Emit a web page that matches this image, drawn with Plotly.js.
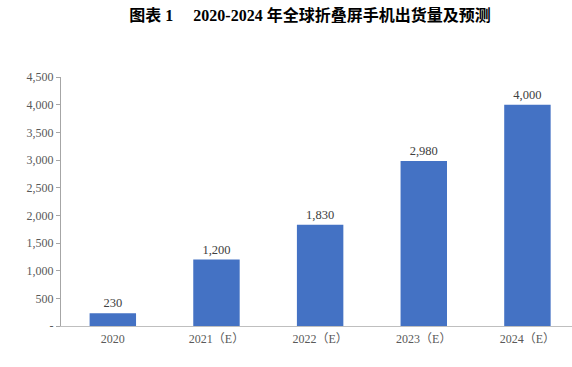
<!DOCTYPE html>
<html>
<head>
<meta charset="utf-8">
<script src="https://cdn.plot.ly/plotly-3.0.1.min.js"></script>
<style>html,body{margin:0;padding:0;background:#fff;}#chart{width:572px;height:367px;}</style>
</head>
<body>
<div id="chart"></div>
<script>
var categories = ["2020", "2021（E）", "2022（E）", "2023（E）", "2024（E）"];
var shipments = [230, 1200, 1830, 2980, 4000];
var yTickVals = [0, 500, 1000, 1500, 2000, 2500, 3000, 3500, 4000, 4500];
var yTickText = ["-", "500", "1,000", "1,500", "2,000", "2,500", "3,000", "3,500", "4,000", "4,500"];
var labelText = shipments.map(function(v){ return v.toLocaleString("en-US"); });

var serif = "'Liberation Serif', 'Times New Roman', 'Noto Sans CJK SC', serif";

var trace = {
  type: "bar",
  x: categories,
  y: shipments,
  width: 0.448,
  marker: {color: "#4472C4"},
  text: labelText,
  textposition: "outside",
  cliponaxis: false,
  textfont: {family: serif, size: 12.5, color: "#404040"},
  hoverinfo: "none"
};

var layout = {
  width: 572,
  height: 367,
  margin: {l: 61, r: 0, t: 77, b: 41},
  paper_bgcolor: "#ffffff",
  plot_bgcolor: "#ffffff",
  showlegend: false,
  title: {
    text: "图表 1　 2020-2024 年全球折叠屏手机出货量及预测",
    font: {family: serif, size: 16, color: "#000000", weight: "bold"},
    xref: "container", x: 0.542, xanchor: "center",
    yref: "container", y: 0.957, yanchor: "middle"
  },
  xaxis: {
    type: "category",
    range: [-0.5, 4.43],
    showline: true,
    linecolor: "#BFBFBF",
    linewidth: 1,
    ticks: "",
    showgrid: false,
    zeroline: false,
    ticklabelstandoff: 2,
    tickfont: {family: serif, size: 12, color: "#595959"},
    fixedrange: true
  },
  yaxis: {
    range: [0, 4500],
    tickvals: yTickVals,
    ticktext: yTickText,
    showline: true,
    linecolor: "#A6A6A6",
    linewidth: 1,
    ticks: "outside",
    ticklen: 4,
    tickcolor: "#A6A6A6",
    showgrid: false,
    zeroline: false,
    tickfont: {family: serif, size: 12, color: "#595959"},
    fixedrange: true
  },
  bargap: 0.55
};

Plotly.newPlot("chart", [trace], layout, {displayModeBar: false, staticPlot: true});
</script>
</body>
</html>
